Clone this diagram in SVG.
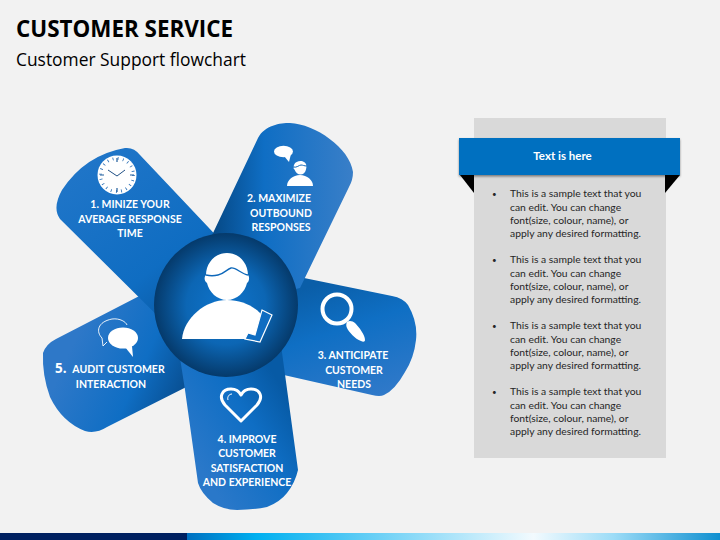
<svg xmlns="http://www.w3.org/2000/svg" width="720" height="540" viewBox="0 0 720 540">
<style>
.t{font-family:"Open Sans","Liberation Sans",sans-serif}
.p{font-family:Lato,"Open Sans",sans-serif;font-weight:700;font-size:10.5px;fill:#fff;text-anchor:middle}
.b{font-family:Lato,"Open Sans",sans-serif;font-size:10.35px;fill:#262626}
.w{fill:#fff}
.wl{fill:none;stroke:#fff}
</style>
<defs>
<linearGradient id="g1" gradientUnits="userSpaceOnUse" x1="90" y1="160" x2="200" y2="300"><stop offset="0" stop-color="#1f75c8"/><stop offset=".7" stop-color="#0f6dc2"/><stop offset="1" stop-color="#0a5ca8"/></linearGradient>
<linearGradient id="g2" gradientUnits="userSpaceOnUse" x1="215" y1="200" x2="355" y2="200"><stop offset="0" stop-color="#064a88"/><stop offset=".35" stop-color="#0f6ec4"/><stop offset="1" stop-color="#3a7fc8"/></linearGradient>
<linearGradient id="g3" gradientUnits="userSpaceOnUse" x1="330" y1="280" x2="370" y2="400"><stop offset="0" stop-color="#0a5ea8"/><stop offset=".4" stop-color="#0f6fc4"/><stop offset="1" stop-color="#3079c9"/></linearGradient>
<linearGradient id="g4" gradientUnits="userSpaceOnUse" x1="195" y1="460" x2="290" y2="400"><stop offset="0" stop-color="#2a78c9"/><stop offset=".6" stop-color="#0f6ec4"/><stop offset="1" stop-color="#075aa5"/></linearGradient>
<linearGradient id="g5" gradientUnits="userSpaceOnUse" x1="70" y1="350" x2="180" y2="400"><stop offset="0" stop-color="#2e78c8"/><stop offset=".6" stop-color="#0f6ec4"/><stop offset="1" stop-color="#084f92"/></linearGradient>
<radialGradient id="hub" cx=".5" cy=".5" r=".5"><stop offset="0" stop-color="#0f74cc"/><stop offset=".55" stop-color="#0c66b4"/><stop offset="1" stop-color="#053a6b"/></radialGradient>
<linearGradient id="bar" x1="0" x2="1" y1="0" y2="0"><stop offset="0" stop-color="#0070c0"/><stop offset=".13" stop-color="#00b0f0"/><stop offset=".4" stop-color="#7fd6f7"/><stop offset=".65" stop-color="#f2fafe"/><stop offset=".8" stop-color="#9cdcf7"/><stop offset="1" stop-color="#0f8fd0"/></linearGradient>
<filter id="sh" x="-5%" y="-10%" width="110%" height="130%"><feDropShadow dx="0" dy="1.500" stdDeviation="1.200" flood-color="#000" flood-opacity=".45"/></filter>
</defs>
<rect width="720" height="540" fill="#f2f2f2"/>
<text class="t" x="16" y="37" font-size="22.400" font-weight="700" fill="#000">CUSTOMER SERVICE</text>
<text class="t" x="16" y="66" font-size="17.400" fill="#000">Customer Support flowchart</text>

<g id="connectors"/>

<g id="node-3">
<path fill="url(#g3)" d="M226 262L392 296Q403 298 408 305Q418 322 416 340Q414 358 405 372Q395 390 384 395Q380 397 372 395L226 362Z"/>
<circle cx="337" cy="309" r="14.500" fill="none" stroke="#fff" stroke-width="4"/>
<path class="w" d="M347 322c2-2 6-1 8 1 4 4 10 12 10 17 0 2-2 2-4 1-6-2-12-9-14-13-1-2-1-4 0-6z"/>
<text class="p"><tspan x="353" y="359">3. ANTICIPATE</tspan><tspan x="354" y="373.500">CUSTOMER</tspan><tspan x="354" y="388">NEEDS</tspan></text>
</g>
<g id="node-5">
<path fill="url(#g5)" d="M180 275L56 339Q46 344 43 353Q42 375 50 397Q62 422 85 431Q96 434 107 427L220 370Z"/>
<path class="wl" stroke-width=".9" d="M107 342L103 346L102 338C96 332 97 322 112 319C120 318 126 322 127 325"/>
<ellipse class="w" cx="123" cy="338" rx="15" ry="10.500"/>
<path class="w" d="M125 347L133 357L132 346z"/>
<text class="t" x="55" y="373" font-size="13.500" font-weight="700" fill="#fff">5.</text>
<text class="p"><tspan x="118.500" y="373">AUDIT CUSTOMER</tspan><tspan x="111" y="387.500">INTERACTION</tspan></text>
</g>
<g id="node-1">
<path fill="url(#g1)" d="M226 246L140 155Q134 147 125 148Q85 155 62 190Q52 208 60 219L185 343Z"/>
<circle cx="117" cy="175" r="19.500" class="w"/>
<circle cx="117" cy="175" r="16.500" fill="none" stroke="#2a6fb5" stroke-width="3" stroke-dasharray=".8 4.400"/>
<path d="M117 158v4M117 188v4M100 175h4M130 175h4" stroke="#1f5c9c" stroke-width="1.200"/>
<path d="M108 170L117 176L125 170" fill="none" stroke="#1f4f85" stroke-width="1"/>
<text class="p"><tspan x="130" y="208">1. MINIZE YOUR</tspan><tspan x="130" y="222.500">AVERAGE RESPONSE</tspan><tspan x="130" y="237">TIME</tspan></text>
</g>
<g id="node-2">
<path fill="url(#g2)" d="M205 250L258 138C265 125 280 123 290 123C315 124 350 148 353 172Q353 180 349 187L300 288L226 305Z"/>
<ellipse class="w" cx="283.500" cy="151.500" rx="9.500" ry="5.800"/>
<path class="w" d="M284 156L289 162L291 154z"/>
<path class="w" d="M294 165c1-3 4-4 6.500-4s6 1.500 6 5.500l-.5 3c-.5 3-3 5-5.500 5s-5-2-6-5c-1-.5-1.500-2-.5-4.500z"/>
<path d="M293 167c4 1 6-2 8-2s3 1 6 1" fill="none" stroke="#1268b8" stroke-width="1"/>
<path class="w" d="M287 186c0-6 6-11 13-11s13 5 13 11z"/>
<text class="p"><tspan x="279" y="202">2. MAXIMIZE</tspan><tspan x="281" y="216.500">OUTBOUND</tspan><tspan x="281" y="231">RESPONSES</tspan></text>
</g>
<g id="node-4">
<path fill="url(#g4)" d="M178 345L185 390L198 483Q201 493 213 503Q224 510 237 510Q253 510 267 507Q280 502 287 493Q295 483 298 470L281 345Z"/>
<path class="wl" stroke-width="3" stroke-linejoin="round" d="M241 421L225 405C218 397 222 389 231 389C235 389 239 391 241 395C243 391 247 389 251 389C260 389 264 397 257 405Z"/>
<path class="wl" stroke-width="1" d="M228 400c-1-3 1-6 4-6"/>
<text class="p"><tspan x="247" y="442.500">4. IMPROVE</tspan><tspan x="247" y="457">CUSTOMER</tspan><tspan x="247" y="471.500">SATISFACTION</tspan><tspan x="247" y="486">AND EXPERIENCE</tspan></text>
</g>
<g id="node-center">
<circle cx="226" cy="305" r="72" fill="url(#hub)"/>
<path class="w" d="M206 275c0-12 9-22 21-22s21 10 21 22c2 2 1 7-1 8-2 9-10 17-20 17s-18-8-20-17c-3-2-3-6-1-8z"/>
<path d="M206 275c4 1 8 1 12 0 6-1 9-6 13-7 5-1 10 6 17 7" fill="none" stroke="#0e68ba" stroke-width="1.300"/>
<path class="w" d="M182 339C184 318 205 300 227 300C243 300 258 308 264 318L255 335L245 339Z"/>
<path d="M262 310L272 315L260 342L245 339L248 333L255 335Z" fill="#0f6dc2" stroke="#fff" stroke-width="1.200"/>
</g>
<g id="panel">
<rect x="474" y="118" width="192" height="340" fill="#d9d9d9"/>
<path d="M460 175h14v18z" fill="#000"/>
<path d="M665 175h15l-15 18z" fill="#000"/>
<rect x="459" y="138" width="221" height="37" fill="#0070c0" filter="url(#sh)"/>
<text x="562.500" y="160" text-anchor="middle" font-family="Lato,'Open Sans',sans-serif" font-weight="700" font-size="11.500" fill="#fff">Text is here</text>
<g class="b">
<text x="492" y="196.500" style="font-size:8px">•</text><text><tspan x="510" y="197.300">This is a sample text that you</tspan><tspan x="510" y="210.500">can edit. You can change</tspan><tspan x="510" y="223.700">font(size, colour, name), or</tspan><tspan x="510" y="236.900">apply any desired formatting.</tspan></text>
<text x="492" y="262.500" style="font-size:8px">•</text><text><tspan x="510" y="263.300">This is a sample text that you</tspan><tspan x="510" y="276.500">can edit. You can change</tspan><tspan x="510" y="289.700">font(size, colour, name), or</tspan><tspan x="510" y="302.900">apply any desired formatting.</tspan></text>
<text x="492" y="328.500" style="font-size:8px">•</text><text><tspan x="510" y="329.300">This is a sample text that you</tspan><tspan x="510" y="342.500">can edit. You can change</tspan><tspan x="510" y="355.700">font(size, colour, name), or</tspan><tspan x="510" y="368.900">apply any desired formatting.</tspan></text>
<text x="492" y="394.500" style="font-size:8px">•</text><text><tspan x="510" y="395.300">This is a sample text that you</tspan><tspan x="510" y="408.500">can edit. You can change</tspan><tspan x="510" y="421.700">font(size, colour, name), or</tspan><tspan x="510" y="434.900">apply any desired formatting.</tspan></text>
</g>
</g>
<rect x="0" y="533" width="187" height="7" fill="#002060"/>
<rect x="187" y="533" width="533" height="7" fill="url(#bar)"/>
</svg>
